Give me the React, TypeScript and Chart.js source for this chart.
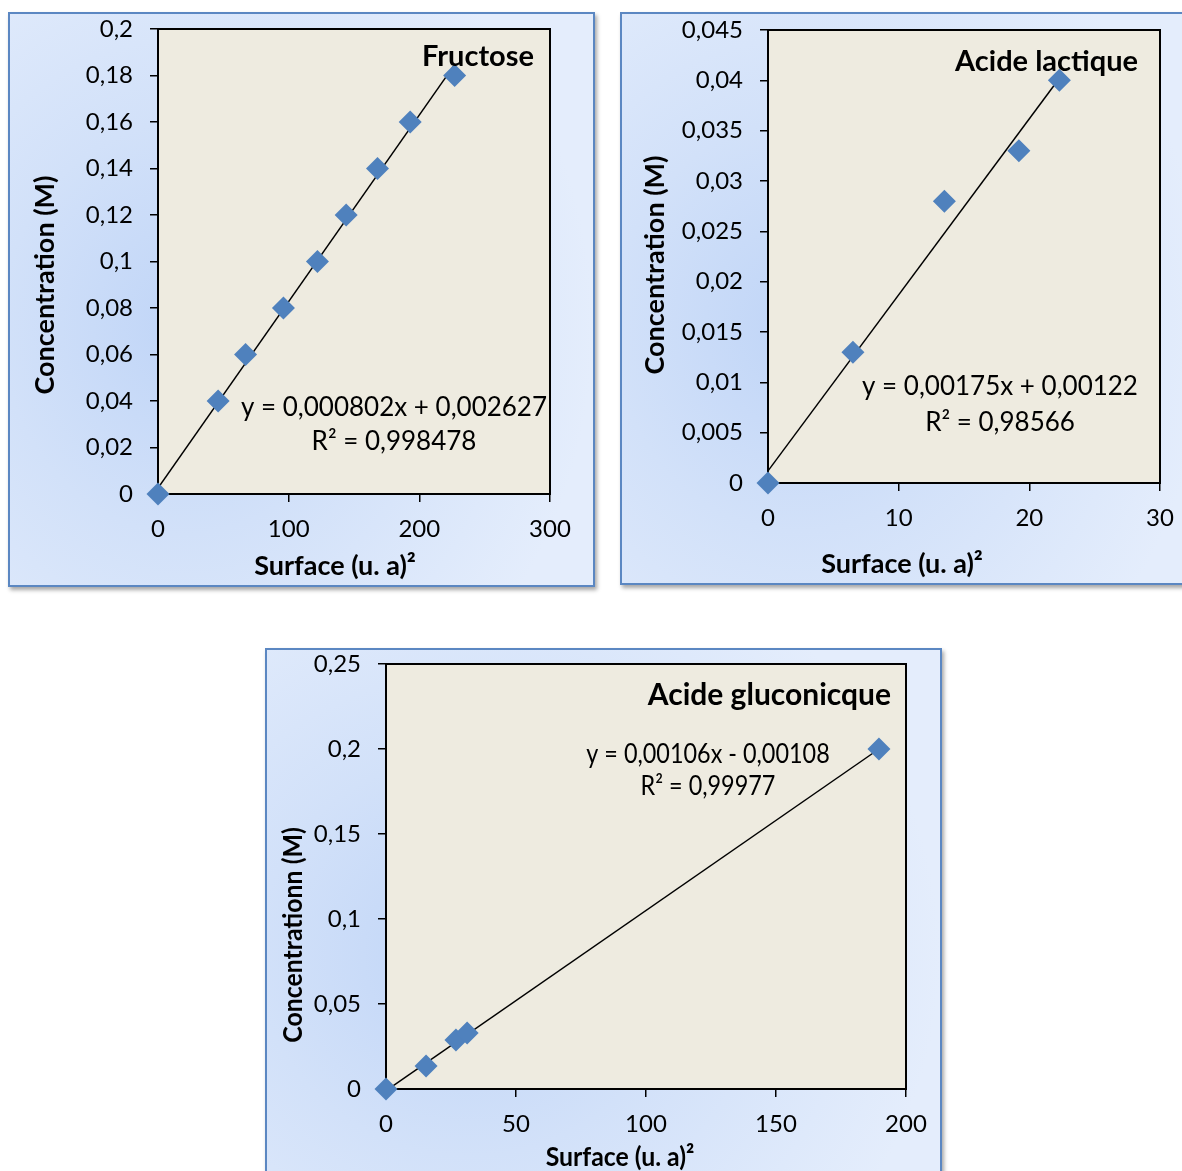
import React, { useEffect, useRef } from "react";
import { Chart, registerables } from "chart.js";

Chart.register(...registerables);

// ---------- Fructose ----------
const fructoseSurface = [0, 46, 67, 96, 122, 144, 168, 193, 227];
const fructoseConc = [0, 0.04, 0.06, 0.08, 0.1, 0.12, 0.14, 0.16, 0.18];
const fructoseTrendSurface = [0, 227];
const fructoseTrendConc = [0.0026, 0.1847];
const fructoseXTicks = [0, 100, 200, 300];
const fructoseXLabels = ["0", "100", "200", "300"];
const fructoseYTicks = [0, 0.02, 0.04, 0.06, 0.08, 0.1, 0.12, 0.14, 0.16, 0.18, 0.2];
const fructoseYLabels = ["0", "0,02", "0,04", "0,06", "0,08", "0,1", "0,12", "0,14", "0,16", "0,18", "0,2"];
const fructoseEquation = ["y = 0,000802x + 0,002627", "R² = 0,998478"];

// ---------- Acide lactique ----------
const lactiqueSurface = [0, 6.5, 13.5, 19.2, 22.3];
const lactiqueConc = [0, 0.013, 0.028, 0.033, 0.04];
const lactiqueTrendSurface = [0, 22.3];
const lactiqueTrendConc = [0.0012, 0.0402];
const lactiqueXTicks = [0, 10, 20, 30];
const lactiqueXLabels = ["0", "10", "20", "30"];
const lactiqueYTicks = [0, 0.005, 0.01, 0.015, 0.02, 0.025, 0.03, 0.035, 0.04, 0.045];
const lactiqueYLabels = ["0", "0,005", "0,01", "0,015", "0,02", "0,025", "0,03", "0,035", "0,04", "0,045"];
const lactiqueEquation = ["y = 0,00175x + 0,00122", "R² = 0,98566"];

// ---------- Acide gluconicque ----------
const gluconiqueSurface = [0, 15.4, 26.9, 31.2, 189.6];
const gluconiqueConc = [0, 0.0135, 0.0288, 0.033, 0.2];
const gluconiqueTrendSurface = [0, 189.6];
const gluconiqueTrendConc = [-0.001, 0.2];
const gluconiqueXTicks = [0, 50, 100, 150, 200];
const gluconiqueXLabels = ["0", "50", "100", "150", "200"];
const gluconiqueYTicks = [0, 0.05, 0.1, 0.15, 0.2, 0.25];
const gluconiqueYLabels = ["0", "0,05", "0,1", "0,15", "0,2", "0,25"];
const gluconiqueEquation = ["y = 0,00106x - 0,00108", "R² = 0,99977"];

const FONT = "Lato, 'Open Sans', sans-serif";

type Spec = {
  name: string;
  yTitle: string;
  xTitle: string;
  xs: number[];
  ys: number[];
  tx: number[];
  ty: number[];
  xTicks: number[];
  xLabels: string[];
  yTicks: number[];
  yLabels: string[];
  eq: string[];
  box: { left: number; top: number; width: number; height: number };
  plot: { left: number; top: number; right: number; bottom: number };
  namePos: [number, number];
  eqPos: [number, number, number];
  yTitlePos: [number, number];
  xTitlePos: [number, number];
  tickFont: number;
  eqFont: number;
  titleFont: number;
  nameFont: number;
  eqScaleX: number;
  textScaleX: number;
};

const specs: Spec[] = [
  {
    name: "Fructose",
    yTitle: "Concentration (M)",
    xTitle: "Surface (u. a)²",
    xs: fructoseSurface,
    ys: fructoseConc,
    tx: fructoseTrendSurface,
    ty: fructoseTrendConc,
    xTicks: fructoseXTicks,
    xLabels: fructoseXLabels,
    yTicks: fructoseYTicks,
    yLabels: fructoseYLabels,
    eq: fructoseEquation,
    box: { left: 8, top: 12, width: 587, height: 575 },
    plot: { left: 150, top: 17, right: 542, bottom: 482 },
    namePos: [526, 45],
    eqPos: [386, 396, 430],
    yTitlePos: [37, 273],
    xTitlePos: [327, 554],
    tickFont: 24,
    eqFont: 26,
    titleFont: 27,
    nameFont: 29,
    eqScaleX: 1,
    textScaleX: 1,
  },
  {
    name: "Acide lactique",
    yTitle: "Concentration (M)",
    xTitle: "Surface (u. a)²",
    xs: lactiqueSurface,
    ys: lactiqueConc,
    tx: lactiqueTrendSurface,
    ty: lactiqueTrendConc,
    xTicks: lactiqueXTicks,
    xLabels: lactiqueXLabels,
    yTicks: lactiqueYTicks,
    yLabels: lactiqueYLabels,
    eq: lactiqueEquation,
    box: { left: 620, top: 12, width: 590, height: 573 },
    plot: { left: 148, top: 18, right: 540, bottom: 471 },
    namePos: [518, 50],
    eqPos: [380, 375, 411],
    yTitlePos: [35, 253],
    xTitlePos: [282, 552],
    tickFont: 24,
    eqFont: 26,
    titleFont: 27,
    nameFont: 29,
    eqScaleX: 1,
    textScaleX: 1,
  },
  {
    name: "Acide gluconicque",
    yTitle: "Concentrationn (M)",
    xTitle: "Surface (u. a)²",
    xs: gluconiqueSurface,
    ys: gluconiqueConc,
    tx: gluconiqueTrendSurface,
    ty: gluconiqueTrendConc,
    xTicks: gluconiqueXTicks,
    xLabels: gluconiqueXLabels,
    yTicks: gluconiqueYTicks,
    yLabels: gluconiqueYLabels,
    eq: gluconiqueEquation,
    box: { left: 265, top: 648, width: 677, height: 560 },
    plot: { left: 121, top: 16, right: 641, bottom: 441 },
    namePos: [626, 47],
    eqPos: [443, 107, 139],
    yTitlePos: [28, 287],
    xTitlePos: [355, 509],
    tickFont: 24,
    eqFont: 26,
    titleFont: 27,
    nameFont: 30,
    eqScaleX: 0.9,
    textScaleX: 0.92,
  },
];

function ChartBox({ spec }: { spec: Spec }) {
  const ref = useRef<HTMLCanvasElement | null>(null);

  useEffect(() => {
    const canvas = ref.current;
    if (!canvas) return;
    const s = spec;
    const deco = {
      id: "deco",
      beforeDraw(chart: any) {
        const { ctx, chartArea: a } = chart;
        ctx.save();
        ctx.fillStyle = "#eeebe0";
        ctx.fillRect(a.left, a.top, a.right - a.left, a.bottom - a.top);
        ctx.restore();
      },
      beforeDatasetsDraw(chart: any) {
        const { ctx, chartArea: a } = chart;
        ctx.save();
        ctx.strokeStyle = "#000";
        ctx.lineWidth = 2;
        ctx.strokeRect(a.left, a.top, a.right - a.left, a.bottom - a.top);
        ctx.restore();
      },
      afterDraw(chart: any) {
        const { ctx } = chart;
        ctx.save();
        ctx.fillStyle = "#000";
        ctx.textBaseline = "middle";
        // chart name
        ctx.font = `bold ${s.nameFont}px ${FONT}`;
        ctx.textAlign = "right";
        ctx.fillText(s.name, s.namePos[0], s.namePos[1]);
        // equation
        ctx.font = `${s.eqFont}px ${FONT}`;
        ctx.textAlign = "center";
        ctx.save();
        ctx.translate(s.eqPos[0], 0);
        ctx.scale(s.eqScaleX, 1);
        ctx.fillText(s.eq[0], 0, s.eqPos[1]);
        ctx.fillText(s.eq[1], 0, s.eqPos[2]);
        ctx.restore();
        // axis titles
        ctx.font = `bold ${s.titleFont}px ${FONT}`;
        ctx.textAlign = "center";
        ctx.save();
        ctx.translate(s.xTitlePos[0], s.xTitlePos[1]);
        ctx.scale(s.textScaleX, 1);
        ctx.fillText(s.xTitle, 0, 0);
        ctx.restore();
        ctx.save();
        ctx.translate(s.yTitlePos[0], s.yTitlePos[1]);
        ctx.rotate(-Math.PI / 2);
        ctx.scale(s.textScaleX, 1);
        ctx.fillText(s.yTitle, 0, 0);
        ctx.restore();
        ctx.restore();
      },
    };

    const chart = new Chart(canvas, {
      type: "scatter",
      data: {
        datasets: [
          {
            label: s.name,
            data: s.xs.map((x, i) => ({ x, y: s.ys[i] })),
            pointStyle: "rectRot",
            pointRadius: 11.5,
            pointBackgroundColor: "#4f81bd",
            pointBorderColor: "#4f81bd",
            pointBorderWidth: 0,
            showLine: false,
            clip: false,
            order: 1,
          },
          {
            label: "Linéaire",
            data: s.tx.map((x, i) => ({ x, y: s.ty[i] })),
            showLine: true,
            borderColor: "#000",
            borderWidth: 1.5,
            pointRadius: 0,
            order: 2,
          },
        ],
      },
      options: {
        responsive: false,
        animation: false,
        layout: {
          padding: {
            left: 0,
            top: s.plot.top,
            right: s.box.width - s.plot.right,
            bottom: 0,
          },
        },
        plugins: {
          legend: { display: false },
          tooltip: { enabled: false },
          title: { display: false },
        },
        scales: {
          x: {
            type: "linear",
            position: "bottom",
            min: s.xTicks[0],
            max: s.xTicks[s.xTicks.length - 1],
            afterBuildTicks: (scale: any) => {
              scale.ticks = s.xTicks.map((v) => ({ value: v }));
            },
            afterFit: (scale: any) => {
              scale.height = s.box.height - s.plot.bottom;
              scale.paddingLeft = 0;
              scale.paddingRight = 0;
            },
            ticks: {
              callback: (_v: any, i: number) => s.xLabels[i],
              font: { family: FONT, size: s.tickFont },
              color: "#000",
              padding: 13,
              maxRotation: 0,
              autoSkip: false,
            },
            grid: {
              display: true,
              drawOnChartArea: false,
              drawTicks: true,
              tickLength: 8,
              color: "#000",
              lineWidth: 1.5,
            },
            border: { display: true, color: "#000", width: 2 },
          },
          y: {
            type: "linear",
            position: "left",
            min: s.yTicks[0],
            max: s.yTicks[s.yTicks.length - 1],
            afterBuildTicks: (scale: any) => {
              scale.ticks = s.yTicks.map((v) => ({ value: v }));
            },
            afterFit: (scale: any) => {
              scale.width = s.plot.left;
              scale.paddingTop = 0;
              scale.paddingBottom = 0;
            },
            ticks: {
              callback: (_v: any, i: number) => s.yLabels[i],
              font: { family: FONT, size: s.tickFont },
              color: "#000",
              padding: 17,
              autoSkip: false,
            },
            grid: {
              display: true,
              drawOnChartArea: false,
              drawTicks: true,
              tickLength: 8,
              color: "#000",
              lineWidth: 1.5,
            },
            border: { display: true, color: "#000", width: 2 },
          },
        },
      },
      plugins: [deco],
    } as any);

    return () => chart.destroy();
  }, [spec]);

  const b = spec.box;
  return (
    <div
      style={{
        position: "absolute",
        left: b.left,
        top: b.top,
        width: b.width,
        height: b.height,
        boxSizing: "border-box",
        border: "2px solid #5b87c2",
        background:
          "radial-gradient(ellipse 70% 80% at 30% 55%, #c0d5f7 0%, #d2e1f9 45%, #e4edfc 100%)",
        boxShadow: "2px 3px 4px rgba(0,0,0,0.35)",
      }}
    >
      <canvas
        ref={ref}
        width={b.width}
        height={b.height}
        style={{ position: "absolute", left: -2, top: -2, width: b.width, height: b.height }}
      />
    </div>
  );
}

export default function App() {
  return (
    <div
      style={{
        position: "absolute",
        left: 0,
        top: 0,
        width: 1182,
        height: 1171,
        overflow: "hidden",
        background: "#fff",
      }}
    >
      {specs.map((s) => (
        <ChartBox key={s.name} spec={s} />
      ))}
    </div>
  );
}
